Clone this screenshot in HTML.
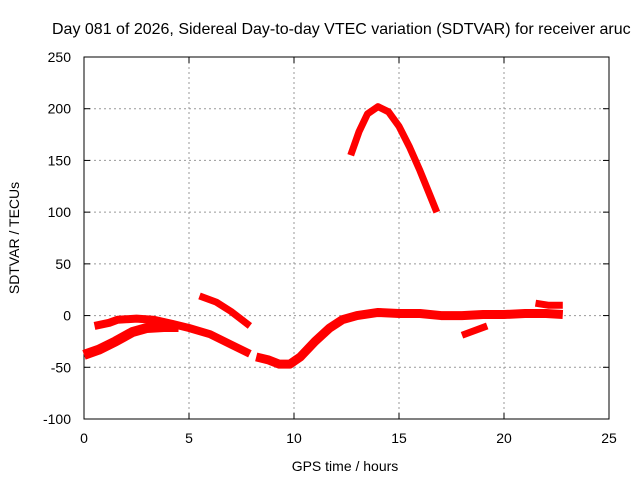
<!DOCTYPE html>
<html><head><meta charset="utf-8"><style>
body{margin:0;background:#fff;overflow:hidden}
svg{font-family:"Liberation Sans",sans-serif;}
</style></head><body>
<svg id="chart" width="640" height="480" xmlns="http://www.w3.org/2000/svg">
<text x="52" y="34" font-size="16">Day 081 of 2026, Sidereal Day-to-day VTEC variation (SDTVAR) for receiver aruc</text>
<g id="grid"></g>
<rect x="84" y="57" width="525" height="362" fill="none" stroke="#000" stroke-width="1"/>
<g id="ticks"></g>
<g id="series"></g>
<text x="345" y="471" font-size="14" text-anchor="middle">GPS time / hours</text>
<text x="19" y="238" font-size="14" text-anchor="middle" transform="rotate(-90 19 238)">SDTVAR / TECUs</text>
</svg>
<script>
const xTicks=[0,5,10,15,20,25];
const yTicks=[-100,-50,0,50,100,150,200,250];
const seriesUpperBandX=[0.5,1.2,1.6,2.5,3.3,4.2,5.0,6.0,7.0,7.9];
const seriesUpperBandY=[-10,-7,-4,-3,-4,-8,-12,-18,-28,-37];
const seriesLowerBandX=[0,0.7,1.5,2.3,3.0,3.8,4.5];
const seriesLowerBandY=[-38,-33,-25,-16,-12,-11,-11];
const seriesB_X=[5.5,6.3,7.0,7.9];
const seriesB_Y=[19,13,4,-10];
const seriesC_X=[8.2,8.8,9.3,9.8,10.3,11,11.7,12.3,13,14,15,16,17,18,19,20,21,22,22.8];
const seriesC_Y=[-40,-43,-47,-47,-40,-25,-12,-4,0,3,2,2,0,0,1,1,2,2,1];
const seriesD_X=[18,19.2];
const seriesD_Y=[-19,-10];
const seriesE_X=[21.5,22.1,22.8];
const seriesE_Y=[12,10,10];
const seriesF_X=[12.7,13.1,13.5,14,14.5,15,15.5,16,16.5,16.8];
const seriesF_Y=[155,178,195,202,197,183,163,140,115,100];
const NS="http://www.w3.org/2000/svg";
const X0=84,X1=609,Y0=419,Y1=57;
function sx(v){return X0+(v-0)/(25-0)*(X1-X0);}
function sy(v){return Y0-(v+100)/350*(Y0-Y1);}
const grid=document.getElementById('grid'),ticks=document.getElementById('ticks'),ser=document.getElementById('series');
function mk(tag,attrs,parent){const e=document.createElementNS(NS,tag);for(const k in attrs)e.setAttribute(k,attrs[k]);parent.appendChild(e);return e;}
xTicks.forEach(t=>{
  const x=sx(t);
  if(t>0&&t<25){const g=mk('line',{x1:x,x2:x,y1:Y1,y2:Y0,stroke:'#999','stroke-dasharray':'2,3'},grid);
  
  }
  const a=mk('line',{x1:x,x2:x,y1:Y0,y2:Y0-6,stroke:'#000'},ticks);
  
  
  const b=mk('line',{x1:x,x2:x,y1:Y1,y2:Y1+6,stroke:'#000'},ticks);
  
  
  const l=mk('text',{x:x,y:443,'font-size':14,'text-anchor':'middle'},ticks);l.textContent=t;
  
  
});
yTicks.forEach(t=>{
  const y=sy(t);
  if(t>-100&&t<250){const g=mk('line',{x1:X0,x2:X1,y1:y,y2:y,stroke:'#999','stroke-dasharray':'2,3'},grid);
  
  }
  const a=mk('line',{x1:X0,x2:X0+6,y1:y,y2:y,stroke:'#000'},ticks);
  
  
  const b=mk('line',{x1:X1,x2:X1-6,y1:y,y2:y,stroke:'#000'},ticks);
  
  
  const l=mk('text',{x:71,y:y+5,'font-size':14,'text-anchor':'end'},ticks);l.textContent=t;
  
  
});
function draw(xs,ys,name,w){
  const pts=xs.map((v,i)=>sx(v)+','+sy(ys[i])).join(' ');
  const p=mk('polyline',{points:pts,fill:'none',stroke:'#f00','stroke-width':w,'stroke-linejoin':'round','stroke-linecap':'butt'},ser);
  
  
}
draw(seriesUpperBandX,seriesUpperBandY,'sdtvar-upper-band',8);
draw(seriesLowerBandX,seriesLowerBandY,'sdtvar-lower-band',10);
draw(seriesB_X,seriesB_Y,'sdtvar-segment-b',7);
draw(seriesC_X,seriesC_Y,'sdtvar-segment-c',9);
draw(seriesD_X,seriesD_Y,'sdtvar-segment-d',7);
draw(seriesE_X,seriesE_Y,'sdtvar-segment-e',7);
draw(seriesF_X,seriesF_Y,'sdtvar-peak-segment',7);
</script>
</body></html>
